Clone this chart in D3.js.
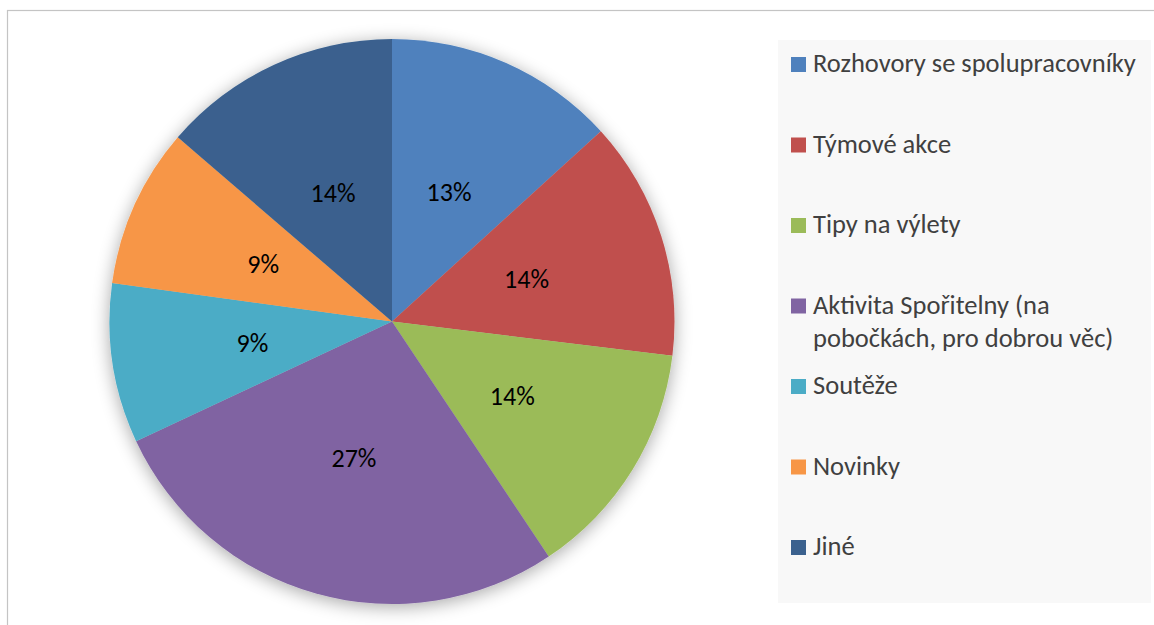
<!DOCTYPE html>
<html>
<head>
<meta charset="utf-8">
<script src="https://cdn.jsdelivr.net/npm/d3@7"></script>
<style>
html,body{margin:0;padding:0;background:#fff;}
svg{display:block;}
</style>
</head>
<body>
<svg id="chart" width="1154" height="625"></svg>
<script>
const categories = [
  "Rozhovory se spolupracovníky",
  "Týmové akce",
  "Tipy na výlety",
  "Aktivita Spořitelny (na pobočkách, pro dobrou věc)",
  "Soutěže",
  "Novinky",
  "Jiné"
];
const legendLines = [
  ["Rozhovory se spolupracovníky"],
  ["Týmové akce"],
  ["Tipy na výlety"],
  ["Aktivita Spořitelny (na", "pobočkách, pro dobrou věc)"],
  ["Soutěže"],
  ["Novinky"],
  ["Jiné"]
];
const values = [29, 30, 30, 60, 20, 20, 30];
const colors = ["#4F81BD", "#C0504D", "#9BBB59", "#8064A2", "#4BACC6", "#F79646", "#3B618E"];

const FONT = "Carlito, Calibri, Lato, 'Open Sans', sans-serif";
const svg = d3.select("#chart");

// defs: shadow
const defs = svg.append("defs");
const f = defs.append("filter").attr("id","shadow").attr("x","-20%").attr("y","-20%").attr("width","140%").attr("height","140%");
f.append("feGaussianBlur").attr("in","SourceAlpha").attr("stdDeviation",9).attr("result","b");
f.append("feOffset").attr("in","b").attr("dx",0).attr("dy",3).attr("result","o");
f.append("feComponentTransfer").attr("in","o").attr("result","s")
  .append("feFuncA").attr("type","linear").attr("slope",0.35);
const m = f.append("feMerge");
m.append("feMergeNode").attr("in","s");
m.append("feMergeNode").attr("in","SourceGraphic");

// frame
svg.append("rect").attr("x",7.5).attr("y",10.5).attr("width",1160).attr("height",640)
  .attr("fill","#fff").attr("stroke","#c4c4c4").attr("stroke-width",1.2);

const cx = 392, cy = 321.5, R = 282.5;
const total = d3.sum(values);
const pie = d3.pie().sort(null).value(d => d)(values);
const arc = d3.arc().innerRadius(0).outerRadius(R);

const g = svg.append("g").attr("transform", `translate(${cx},${cy})`);
const slices = g.append("g").attr("filter","url(#shadow)");
slices.selectAll("path").data(pie).join("path")
  .attr("d", arc)
  .attr("fill", (d,i) => colors[i]);

g.selectAll("text.lbl").data(pie).join("text")
  .attr("class","lbl")
  .attr("transform", d => `translate(${arc.centroid(d)})`)
  .attr("text-anchor","middle")
  .attr("dy","0.35em")
  .attr("font-family", FONT)
  .attr("font-size", 26)
  .attr("fill","#000")
  .text(d => Math.round(d.data / total * 100) + "%");

// legend
svg.append("rect").attr("x",778).attr("y",40).attr("width",373).attr("height",563).attr("fill","#f8f8f8");
const ly = d3.scaleLinear().domain([0, 6]).range([72, 555]);
const lg = svg.append("g");
legendLines.forEach((lines, i) => {
  const y = ly(i);
  lg.append("rect").attr("x",791).attr("y",y-15).attr("width",15).attr("height",15).attr("fill",colors[i]);
  const t = lg.append("text").attr("x",813).attr("y",y)
    .attr("font-family", FONT).attr("font-size",26.5).attr("fill","#404040");
  lines.forEach((ln, j) => {
    t.append("tspan").attr("x",813).attr("y", y + j*33).text(ln);
  });
});
</script>
</body>
</html>
